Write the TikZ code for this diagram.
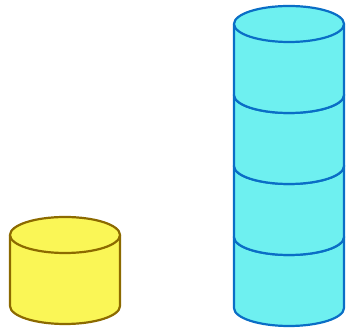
\documentclass[tikz,border=0pt]{standalone}
\begin{document}
\begin{tikzpicture}[x=1pt,y=1pt,
  ycyl/.style={draw={rgb,255:red,140;green,106;blue,0},fill={rgb,255:red,250;green,246;blue,86},line width=2.2pt,line join=round},
  ccyl/.style={draw={rgb,255:red,10;green,110;blue,198},fill={rgb,255:red,110;green,240;blue,240},line width=2.2pt,line join=round}]
\useasboundingbox (0,0) rectangle (346,329);
% yellow cylinder
\path[ycyl] (10,94) -- (10,23) arc[start angle=180,end angle=360,x radius=55,y radius=18] -- (120,94) -- cycle;
\path[ycyl] (65,94) ellipse[x radius=55,y radius=18];
% cyan stack, bottom to top
\foreach \b/\t in {21/92,92/163,163/234,234/305}{
  \path[ccyl] (234,\t) -- (234,\b) arc[start angle=180,end angle=360,x radius=55,y radius=18] -- (344,\t) -- cycle;
  \path[ccyl] (289,\t) ellipse[x radius=55,y radius=18];
}
\end{tikzpicture}
\end{document}
